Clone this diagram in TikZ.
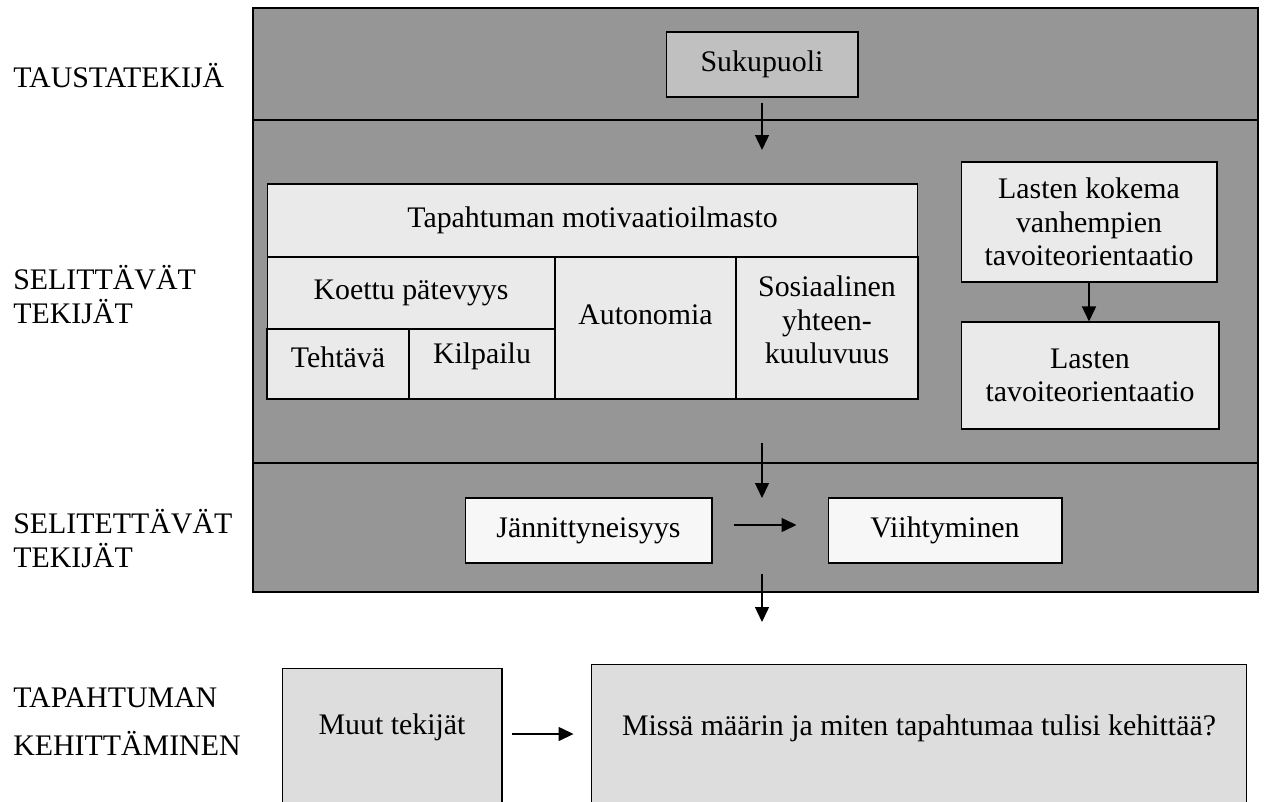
\documentclass[tikz,border=0pt]{standalone}
\usepackage{fontspec}
\setmainfont{Liberation Serif}
\usepackage{tikz}
\usetikzlibrary{arrows.meta}

\definecolor{panelgray}{RGB}{150,150,150}
\definecolor{sexgray}{RGB}{192,192,192}
\definecolor{cellgray}{RGB}{234,234,234}
\definecolor{boxwhite}{RGB}{247,247,247}
\definecolor{devgray}{RGB}{221,221,221}

\begin{document}
\begin{tikzpicture}[x=0.02cm, y=-0.02cm, font=\fontsize{17}{19}\selectfont,
    box/.style={draw, line width=0.6pt, align=center, inner sep=0pt},
    arr/.style={line width=0.8pt, -{Triangle[length=0.3cm, width=0.28cm]}},
    lab/.style={anchor=base west, align=left, inner sep=0pt}]
    \useasboundingbox (0,0) rectangle (1266,801);

    % gray panel with its three bands
    \draw[fill=panelgray, line width=0.9pt] (253,8) rectangle (1258,592);
    \draw[line width=1.2pt] (253,120) -- (1258,120);
    \draw[line width=1.2pt] (253,463) -- (1258,463);

    \node[lab]  (TA)  at (13, 87)   {TAUSTATEKIJÄ};
    \node[lab]  (SA)  at (13,323)   {SELITTÄVÄT \\ TEKIJÄT};
    \node[lab]  (SE)  at (13,567)   {SELITETTÄVÄT \\ TEKIJÄT};
    \node[lab]  (TK)  at (13,755)   {TAPAHTUMAN \\[8pt] KEHITTÄMINEN};

    \node[box, fill=sexgray,  minimum width=3.84cm,  minimum height=1.30cm]  (suku)  at ( 762.0,  64.5)  {Sukupuoli};

    \node[box, fill=cellgray, minimum width=13.02cm, minimum height=1.46cm]  (ilm)   at ( 592.5, 220.5)  {Tapahtuman motivaatioilmasto};
    \node[box, fill=cellgray, minimum width=5.76cm,  minimum height=1.44cm]  (koe)   at ( 411.0, 293.0)  {Koettu pätevyys};
    \node[box, fill=cellgray, minimum width=2.84cm,  minimum height=1.40cm, text depth=0.29cm]  (teh)   at ( 338.0, 364.0)  {Tehtävä};
    \node[box, fill=cellgray, minimum width=2.92cm,  minimum height=1.40cm, text depth=0.45cm]  (kil)   at ( 482.0, 364.0)  {Kilpailu};
    \node[box, fill=cellgray, minimum width=3.62cm,  minimum height=2.84cm, text depth=0.52cm]  (aut)   at ( 645.5, 328.0)  {Autonomia};
    \node[box, fill=cellgray, minimum width=3.64cm,  minimum height=2.84cm, text depth=0.32cm]  (sos)   at ( 827.0, 328.0)  {Sosiaalinen \\ yhteen- \\ kuuluvuus};

    \node[box, fill=cellgray, minimum width=5.12cm,  minimum height=2.40cm]  (lk)    at (1089.0, 222.0)  {Lasten kokema \\ vanhempien \\ tavoiteorientaatio};
    \node[box, fill=cellgray, minimum width=5.16cm,  minimum height=2.14cm]  (lt)    at (1090.0, 375.5)  {Lasten \\ tavoiteorientaatio};

    \node[box, fill=boxwhite, minimum width=4.94cm,  minimum height=1.30cm]  (jann)  at ( 588.5, 530.5)  {Jännittyneisyys};
    \node[box, fill=boxwhite, minimum width=4.68cm,  minimum height=1.30cm]  (viiht) at ( 945.0, 530.5)  {Viihtyminen};

    \node[box, fill=devgray,  minimum width=4.40cm,  minimum height=2.88cm, text depth=0.65cm]  (muut)  at ( 392.0, 740.0)  {Muut tekijät};
    \node[box, fill=devgray,  minimum width=13.12cm, minimum height=2.96cm, text depth=0.53cm]  (missa) at ( 919.0, 738.0)  {Missä määrin ja miten tapahtumaa tulisi kehittää?};

    \coordinate (s1) at (762,150);
    \coordinate (m1) at (762,443);
    \coordinate (m2) at (762,498);
    \coordinate (e1) at (762,574);
    \coordinate (e2) at (762,622);

    \draw[arr, shorten <=0.1cm] (suku.south) -- (s1);
    \draw[arr] (lk.south) -- (lk.south |- lt.north);
    \draw[arr] (m1) -- (m2);
    \draw[arr, shorten <=0.42cm, shorten >=0.62cm] ([yshift=0.11cm]jann.east) -- ([yshift=0.11cm]viiht.west);
    \draw[arr] (e1) -- (e2);
    \draw[arr, shorten <=0.18cm, shorten >=0.34cm] ([yshift=0.12cm]muut.east) -- ([yshift=0.12cm]muut.east -| missa.west);
\end{tikzpicture}
\end{document}
